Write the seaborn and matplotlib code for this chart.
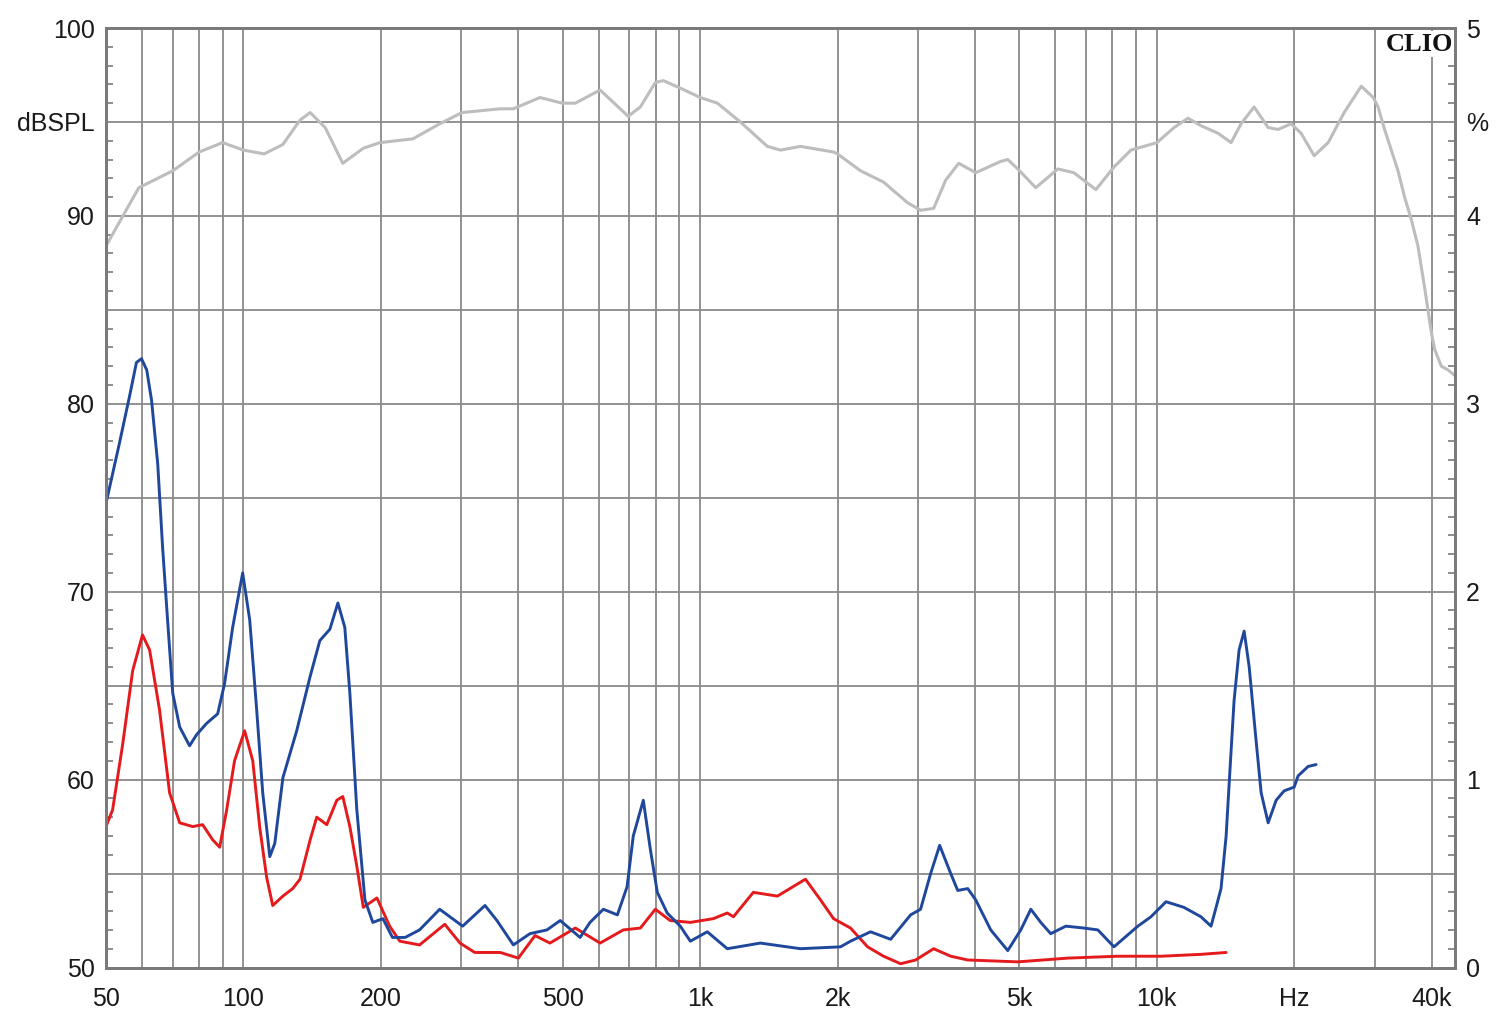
import matplotlib
matplotlib.use("Agg")
import matplotlib.pyplot as plt
import seaborn as sns
from matplotlib.ticker import FixedLocator, MultipleLocator, NullFormatter

# ---------------- data ----------------
spl_freq = [50, 59, 70, 80, 90, 100, 111, 122, 133, 140, 151, 165, 183, 199, 235, 269,
            301, 365, 390, 446, 499, 533, 604, 696, 740, 798, 831, 905, 1001, 1091, 1225,
            1404, 1500, 1659, 1960, 2000, 2246, 2522, 2847, 3040, 3247, 3450, 3684, 4014,
            4554, 4718, 4962, 5434, 6073, 6584, 7358, 8061, 8778, 10010, 10910, 11710,
            12500, 13620, 14550, 15300, 16340, 17540, 18440, 19690, 20710, 22120, 23740,
            25730, 28050, 29800, 30530, 31550, 32640, 33760, 34900, 36110, 37330, 38600,
            39940, 40610, 42000, 43450, 45000]
spl_db = [88.4, 91.5, 92.4, 93.4, 93.9, 93.5, 93.3, 93.8, 95.1, 95.5, 94.7, 92.8, 93.6, 93.9,
          94.1, 94.9, 95.5, 95.7, 95.7, 96.3, 96.0, 96.0, 96.7, 95.3, 95.8, 97.1, 97.2, 96.8,
          96.3, 96.0, 95.0, 93.7, 93.5, 93.7, 93.4, 93.3, 92.4, 91.8, 90.7, 90.3, 90.4, 91.9,
          92.8, 92.3, 92.9, 93.0, 92.5, 91.5, 92.5, 92.3, 91.4, 92.6, 93.5, 93.9, 94.7, 95.2,
          94.8, 94.4, 93.9, 94.9, 95.8, 94.7, 94.6, 94.9, 94.4, 93.2, 93.9, 95.5, 96.9, 96.3,
          95.8, 94.6, 93.5, 92.4, 91.0, 89.8, 88.4, 86.2, 83.8, 82.9, 82.0, 81.8, 81.5]

k2_freq = [50, 53.5, 56.3, 58.3, 59.8, 61.4, 62.9, 64.9, 66.5, 68.2, 70, 72.5, 76.2, 79, 83.1,
           87.8, 90.9, 94.7, 99.6, 103.2, 106.9, 110.2, 114.2, 117.1, 122, 130.8, 140, 147,
           154.6, 161, 166.7, 171, 177.1, 184.5, 192, 202, 212, 226, 243, 269, 302, 338, 359,
           390, 424, 462, 494, 546, 574, 614, 659, 692, 714, 751, 778, 806, 847, 905, 952,
           1037, 1147, 1355, 1659, 2030, 2135, 2362, 2614, 2891, 3040, 3198, 3347, 3539, 3666,
           3856, 4014, 4330, 4718, 5038, 5300, 5573, 5860, 6323, 6924, 7432, 8061, 9094, 9713,
           10480, 11470, 12500, 13150, 13490, 13830, 14190, 14410, 14770, 15150, 15540, 15940,
           16500, 16930, 17540, 18260, 19010, 20000, 20400, 21460, 22340]
k2_pct = [2.47, 2.79, 3.04, 3.22, 3.24, 3.18, 3.02, 2.68, 2.24, 1.85, 1.46, 1.28, 1.18, 1.24,
          1.30, 1.35, 1.51, 1.81, 2.10, 1.85, 1.37, 0.93, 0.59, 0.66, 1.01, 1.26, 1.55, 1.74,
          1.80, 1.94, 1.81, 1.46, 0.84, 0.36, 0.24, 0.26, 0.16, 0.16, 0.20, 0.31, 0.22, 0.33,
          0.25, 0.12, 0.18, 0.20, 0.25, 0.16, 0.24, 0.31, 0.28, 0.43, 0.70, 0.89, 0.63, 0.40,
          0.29, 0.22, 0.14, 0.19, 0.10, 0.13, 0.10, 0.11, 0.14, 0.19, 0.15, 0.28, 0.31, 0.50,
          0.65, 0.50, 0.41, 0.42, 0.36, 0.20, 0.09, 0.20, 0.31, 0.24, 0.18, 0.22, 0.21, 0.20,
          0.11, 0.22, 0.27, 0.35, 0.32, 0.27, 0.22, 0.32, 0.42, 0.70, 0.98, 1.42, 1.69, 1.79,
          1.60, 1.21, 0.93, 0.77, 0.89, 0.94, 0.96, 1.02, 1.07, 1.08]

k3_freq = [50, 51.7, 54.4, 57.2, 60.1, 62.3, 65.5, 68.9, 72.5, 77.4, 81.4, 85.6, 88.7, 91.9,
           95.6, 100.6, 104.8, 108.5, 112.4, 115.9, 122, 128.2, 133, 140, 144.7, 152.2, 160.1,
           165, 171, 177.1, 183, 196, 209, 220, 243, 276, 298, 321, 365, 400, 435, 469, 533,
           604, 679, 740, 798, 860, 952, 1069, 1147, 1183, 1308, 1477, 1701, 1835, 1960, 2135,
           2327, 2522, 2749, 2965, 3247, 3539, 3856, 4962, 6389, 8222, 10220, 12500, 14190]
k3_pct = [0.75, 0.84, 1.19, 1.58, 1.77, 1.69, 1.37, 0.93, 0.77, 0.75, 0.76, 0.68, 0.64, 0.84,
          1.10, 1.26, 1.10, 0.75, 0.48, 0.33, 0.38, 0.42, 0.47, 0.68, 0.80, 0.76, 0.89, 0.91,
          0.75, 0.54, 0.32, 0.37, 0.22, 0.14, 0.12, 0.23, 0.13, 0.08, 0.08, 0.05, 0.17, 0.13,
          0.21, 0.13, 0.20, 0.21, 0.31, 0.25, 0.24, 0.26, 0.29, 0.27, 0.40, 0.38, 0.47, 0.36,
          0.26, 0.21, 0.11, 0.06, 0.02, 0.04, 0.10, 0.06, 0.04, 0.03, 0.05, 0.06, 0.06, 0.07,
          0.08]

x_major = [50, 100, 200, 500, 1000, 2000, 5000, 10000, 20000, 40000]
x_labels = ["50", "100", "200", "500", "1k", "2k", "5k", "10k", "Hz", "40k"]
x_minor = [60, 70, 80, 90, 300, 400, 600, 700, 800, 900, 3000, 4000, 6000, 7000, 8000,
           9000, 30000]
y_major = [50, 55, 60, 65, 70, 75, 80, 85, 90, 95, 100]
y_labels = ["50", "", "60", "", "70", "", "80", "", "90", "dBSPL", "100"]
r_major = [0, 0.5, 1, 1.5, 2, 2.5, 3, 3.5, 4, 4.5, 5]
r_labels = ["0", "", "1", "", "2", "", "3", "", "4", "%", "5"]

# ---------------- style ----------------
sns.set_style("white")
plt.rcParams['font.family'] = ['Liberation Sans', 'DejaVu Sans']

grid_c = '#8a8a8a'
spine_c = '#7a7a7a'
txt_c = '#1a1a1a'

fig = plt.figure(figsize=(15, 10.24), dpi=100)
ax = fig.add_axes([106 / 1500, 1 - 967.5 / 1024, (1455 - 106) / 1500, (967.5 - 28) / 1024])
ax.set_xscale('log')
ax2 = ax.twinx()

sns.lineplot(x=spl_freq, y=spl_db, ax=ax, color='#bdbdbd', linewidth=2.2, sort=False)
sns.lineplot(x=k3_freq, y=k3_pct, ax=ax2, color='#e41a1c', linewidth=2.1, sort=False)
sns.lineplot(x=k2_freq, y=k2_pct, ax=ax2, color='#1f479b', linewidth=2.1, sort=False)

ax.set_xlim(50, 45000)
ax.set_ylim(50, 100)
ax2.set_ylim(0, 5)

ax.xaxis.set_major_locator(FixedLocator(x_major))
ax.set_xticklabels(x_labels)
ax.xaxis.set_minor_locator(FixedLocator(x_minor))
ax.xaxis.set_minor_formatter(NullFormatter())
ax.tick_params(axis='x', which='both', length=0, pad=14, labelsize=18, labelcolor=txt_c)

ax.yaxis.set_major_locator(FixedLocator(y_major))
ax.set_yticklabels(y_labels)
ax.yaxis.set_minor_locator(MultipleLocator(1))
ax.tick_params(axis='y', which='major', length=0, pad=8, labelsize=18, labelcolor=txt_c)
ax.tick_params(axis='y', which='minor', direction='in', length=5, width=1.2, color=spine_c, left=True)

ax2.yaxis.set_major_locator(FixedLocator(r_major))
ax2.set_yticklabels(r_labels)
ax2.yaxis.set_minor_locator(MultipleLocator(0.1))
ax2.tick_params(axis='y', which='major', length=0, pad=8, labelsize=18, labelcolor=txt_c)
ax2.tick_params(axis='y', which='minor', direction='in', length=5, width=1.2, color=spine_c, right=True)

ax.grid(True, which='both', axis='x', color=grid_c, linewidth=1.3)
ax.grid(True, which='major', axis='y', color=grid_c, linewidth=1.3)
ax2.grid(False)
ax.set_xlabel("")
ax.set_ylabel("")
ax2.set_ylabel("")

for a in (ax, ax2):
    for s in a.spines.values():
        s.set_visible(True)
        s.set_color(spine_c)
        s.set_linewidth(2)

ax2.text(0.9985, 0.995, "CLIO", transform=ax2.transAxes, ha='right', va='top',
         fontsize=19, fontweight='bold', family=['Liberation Serif', 'DejaVu Serif'],
         color='#111111', zorder=10,
         bbox=dict(facecolor='white', edgecolor='none', pad=1.0))

fig.savefig("out.png", dpi=100)
